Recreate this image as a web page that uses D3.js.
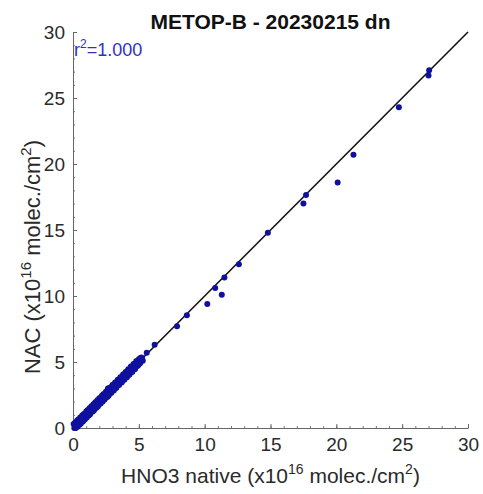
<!DOCTYPE html>
<html>
<head>
<meta charset="utf-8">
<script src="https://cdn.jsdelivr.net/npm/d3@7"></script>
<style>
  body { margin: 0; background: #fff; }
  text { font-family: "Liberation Sans", Arial, sans-serif; }
</style>
</head>
<body>
<div id="chart"></div>
<script>
// values (units: x10^16 molec./cm2)
var nativeVals = [
  0.05, 0.1, 0.15, 0.2, 0.3, 0.35, 0.4, 0.5, 0.55, 0.6, 0.7, 0.75, 0.8, 0.9, 1.0, 1.05,
  1.1, 1.2, 1.25, 1.3, 1.4, 1.5, 1.55, 1.6, 1.7, 1.8, 1.85, 1.9, 2.0, 2.1, 2.2, 2.25,
  2.3, 2.4, 2.5, 2.6, 2.65, 2.7, 2.8, 2.9, 3.0, 3.1, 3.2, 3.3, 3.4, 3.5, 3.6, 3.7,
  3.8, 3.9, 4.0, 4.1, 4.2, 4.3, 4.4, 4.5, 4.6, 4.7, 4.8, 4.9, 5.0, 5.1, 5.2, 5.3,
  0.25, 0.45, 0.65, 0.85, 1.15, 1.35, 1.65, 1.95, 2.15, 2.35, 2.55, 2.85, 3.15, 3.45,
  3.75, 4.05, 4.35, 4.65, 4.95, 5.25,
  0.12, 0.38, 0.62, 0.88, 1.12, 1.38, 1.62, 1.88, 2.12, 2.38, 2.62, 2.88, 3.12, 3.38,
  3.62, 3.88, 4.12, 4.38, 4.62, 4.88, 5.12,
  0.2, 0.48, 0.72, 0.98, 1.22, 1.48, 1.72, 1.98, 2.22, 2.48, 2.72, 2.98, 3.22, 3.48,
  3.72, 3.98, 4.22, 4.48, 4.72, 4.98,
  2.65, 5.6, 6.2, 7.9, 8.65, 10.2, 10.8, 11.3, 11.5, 12.6, 14.8,
  17.5, 17.7, 20.1, 21.3, 24.75, 27.0, 27.05
];
var nacVals = [
  0.3, 0.0, 0.4, 0.0, 0.55, 0.1, 0.65, 0.25, 0.8, 0.35, 0.95, 0.5, 1.05, 0.65, 1.25, 0.8,
  1.35, 0.95, 1.5, 1.05, 1.65, 1.25, 1.8, 1.35, 1.95, 1.55, 2.1, 1.65, 2.25, 1.85, 2.45, 2.0,
  2.55, 2.15, 2.75, 2.35, 2.9, 2.45, 3.05, 2.65, 3.25, 2.85, 3.45, 3.05, 3.65, 3.25, 3.85, 3.45,
  4.05, 3.65, 4.25, 3.85, 4.45, 4.05, 4.65, 4.25, 4.85, 4.45, 5.05, 4.7, 5.2, 4.9, 5.35, 5.1,
  0.25, 0.45, 0.65, 0.85, 1.15, 1.35, 1.65, 1.95, 2.15, 2.35, 2.55, 2.85, 3.15, 3.45,
  3.75, 4.05, 4.35, 4.65, 4.95, 5.25,
  0.3, 0.55, 0.82, 1.08, 1.32, 1.58, 1.82, 2.08, 2.32, 2.58, 2.82, 3.08, 3.32, 3.58,
  3.82, 4.08, 4.32, 4.58, 4.82, 5.08, 5.3,
  0.02, 0.3, 0.52, 0.8, 1.02, 1.3, 1.52, 1.8, 2.02, 2.3, 2.52, 2.8, 3.02, 3.3,
  3.52, 3.8, 4.02, 4.3, 4.52, 4.8,
  3.0, 5.7, 6.3, 7.7, 8.55, 9.4, 10.6, 10.1, 11.4, 12.4, 14.8,
  17.0, 17.65, 18.6, 20.7, 24.3, 26.7, 27.1
];
var xTicks = [0, 5, 10, 15, 20, 25, 30];
var yTicks = [0, 5, 10, 15, 20, 25, 30];
var minorTicks = d3.range(0, 31, 1);
var titleText = "METOP-B - 20230215 dn";
var r2Text = "1.000";

var svgWidth = 483, svgHeight = 494;
var margin = { top: 32, right: 15, bottom: 66, left: 73 };
var width = svgWidth - margin.left - margin.right;
var height = svgHeight - margin.top - margin.bottom;

var svg = d3.select("#chart").append("svg")
    .attr("width", svgWidth)
    .attr("height", svgHeight);

var g = svg.append("g")
    .attr("transform", `translate(${margin.left}, ${margin.top})`);

var x = d3.scaleLinear().domain([0, 30]).range([0, width]);
var y = d3.scaleLinear().domain([0, 30]).range([height, 0]);

// minor ticks (inward)
var xMinor = d3.axisTop(x).tickValues(minorTicks).tickSize(2).tickFormat("");
var yMinor = d3.axisRight(y).tickValues(minorTicks).tickSize(2).tickFormat("");
g.append("g").attr("transform", `translate(0, ${height})`).call(xMinor)
    .call(a => a.select(".domain").remove())
    .selectAll("line").attr("stroke", "#777");
g.append("g").call(yMinor)
    .call(a => a.select(".domain").remove())
    .selectAll("line").attr("stroke", "#777");

// major axes
var xAxis = d3.axisBottom(x).tickValues(xTicks).tickSize(0).tickPadding(10);
var yAxis = d3.axisLeft(y).tickValues(yTicks).tickSize(0).tickPadding(8);

var gx = g.append("g").attr("transform", `translate(0, ${height})`).call(xAxis);
var gy = g.append("g").call(yAxis);
[gx, gy].forEach(function (a) {
  a.select(".domain").attr("stroke", "#666").attr("stroke-width", 1);
  a.selectAll("text").attr("font-size", "19px").attr("fill", "#2a2a2a")
    .attr("font-family", "Liberation Sans, Arial, sans-serif");
});
// inward major ticks
g.append("g").attr("transform", `translate(0, ${height})`)
  .call(d3.axisTop(x).tickValues(xTicks).tickSize(4).tickFormat(""))
  .call(a => a.select(".domain").remove())
  .selectAll("line").attr("stroke", "#666");
g.append("g")
  .call(d3.axisRight(y).tickValues(yTicks).tickSize(4).tickFormat(""))
  .call(a => a.select(".domain").remove())
  .selectAll("line").attr("stroke", "#666");

// 1:1 line
g.append("line")
  .attr("x1", x(0)).attr("y1", y(0))
  .attr("x2", x(30)).attr("y2", y(30))
  .attr("stroke", "#111").attr("stroke-width", 1.6);

// points
var pts = nativeVals.map((v, i) => ({ a: v, b: nacVals[i] }));
g.selectAll("circle").data(pts).enter().append("circle")
  .attr("cx", d => x(d.a))
  .attr("cy", d => y(d.b))
  .attr("r", 3)
  .attr("fill", "#10109e");

// title
svg.append("text")
  .attr("x", margin.left + width / 2)
  .attr("y", 29)
  .attr("text-anchor", "middle")
  .attr("font-size", "21px")
  .attr("font-weight", "bold")
  .attr("fill", "#111")
  .text(titleText);

// r^2
var r2 = g.append("text")
  .attr("x", 1)
  .attr("y", 24)
  .attr("font-size", "18px")
  .attr("fill", "#3030c4");
r2.append("tspan").text("r");
r2.append("tspan").attr("font-size", "12px").attr("dy", -8).text("2");
r2.append("tspan").attr("dy", 8).text("=" + r2Text);

// x label
var xl = svg.append("text")
  .attr("x", margin.left + width / 2)
  .attr("y", 483)
  .attr("text-anchor", "middle")
  .attr("font-size", "21px")
  .attr("fill", "#2a2a2a");
xl.append("tspan").text("HNO3 native (x10");
xl.append("tspan").attr("font-size", "14px").attr("dy", -9).text("16");
xl.append("tspan").attr("dy", 9).text(" molec./cm");
xl.append("tspan").attr("font-size", "14px").attr("dy", -9).text("2");
xl.append("tspan").attr("dy", 9).text(")");

// y label
var yl = svg.append("text")
  .attr("transform", `translate(40, 257) rotate(-90)`)
  .attr("text-anchor", "middle")
  .attr("font-size", "22px")
  .attr("fill", "#2a2a2a");
yl.append("tspan").text("NAC (x10");
yl.append("tspan").attr("font-size", "15px").attr("dy", -9).text("16");
yl.append("tspan").attr("dy", 9).text(" molec./cm");
yl.append("tspan").attr("font-size", "15px").attr("dy", -9).text("2");
yl.append("tspan").attr("dy", 9).text(")");
</script>
</body>
</html>
